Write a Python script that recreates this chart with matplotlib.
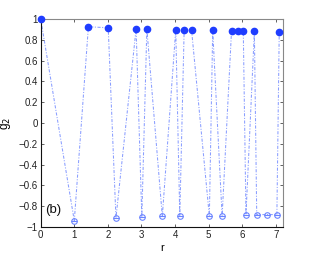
import matplotlib
matplotlib.use("Agg")
import matplotlib.pyplot as plt
import numpy as np

plt.rcParams['font.family'] = ['Liberation Sans', 'DejaVu Sans']

r_filled = [0.0, 1.42, 2.01, 2.84, 3.16, 4.02, 4.27, 4.49, 5.12, 5.68, 5.86, 6.03, 6.36, 7.10]
g_filled = [1.0, 0.925, 0.915, 0.905, 0.903, 0.898, 0.895, 0.895, 0.89, 0.885, 0.885, 0.885, 0.88, 0.875]
r_open = [1.0, 2.24, 3.01, 3.62, 4.14, 5.02, 5.40, 6.11, 6.43, 6.74, 7.03]
g_open = [-0.94, -0.913, -0.905, -0.897, -0.897, -0.895, -0.895, -0.882, -0.88, -0.88, -0.88]
xticks = [0, 1, 2, 3, 4, 5, 6, 7]
yticks = [-1, -0.8, -0.6, -0.4, -0.2, 0, 0.2, 0.4, 0.6, 0.8, 1]
ytick_labels = ['\u22121', '\u22120.8', '\u22120.6', '\u22120.4', '\u22120.2', '0', '0.2', '0.4', '0.6', '0.8', '1']

r_all = np.array(r_filled + r_open)
g_all = np.array(g_filled + g_open)
order = np.argsort(r_all)

fig = plt.figure(figsize=(3.13, 2.56), dpi=100)
ax = fig.add_axes([0.130, 0.113, 0.775, 0.813])

ax.plot(r_all[order], g_all[order], linestyle=(0, (3, 1.5, 1, 1.5)), color='#8a9eff',
        linewidth=0.75, zorder=1)
ax.plot(r_filled, g_filled, 'o', color='#1f3dff', markersize=4.5, linestyle='none',
        zorder=3, clip_on=False)
ax.plot(r_open, g_open, 'o', markerfacecolor='none', markeredgecolor='#6b84ff',
        markersize=4, markeredgewidth=0.8, linestyle='none', zorder=3)
ax.plot(r_open, g_open, '_', color='#6b84ff', markersize=4, markeredgewidth=0.8,
        linestyle='none', zorder=3)

ax.set_xlim(0, 7.22)
ax.set_ylim(-1, 1)
ax.set_xticks(xticks)
ax.set_yticks(yticks)
ax.set_yticklabels(ytick_labels)
ax.tick_params(direction='in', length=2.5, width=0.5, labelsize=7, top=True, right=True,
               pad=2, colors='#222222')
for s in ['top', 'right']:
    ax.spines[s].set_color('#888888')
    ax.spines[s].set_linewidth(0.8)
for s in ['left', 'bottom']:
    ax.spines[s].set_color('#111111')
    ax.spines[s].set_linewidth(0.8)

ax.set_xlabel('r', fontsize=8, labelpad=2)
ax.set_ylabel('g$_2$', fontsize=8.5, labelpad=4)
ax.text(0.12, -0.86, '(b)', fontsize=9.5, color='#111111')

fig.savefig('out.png', dpi=100)
